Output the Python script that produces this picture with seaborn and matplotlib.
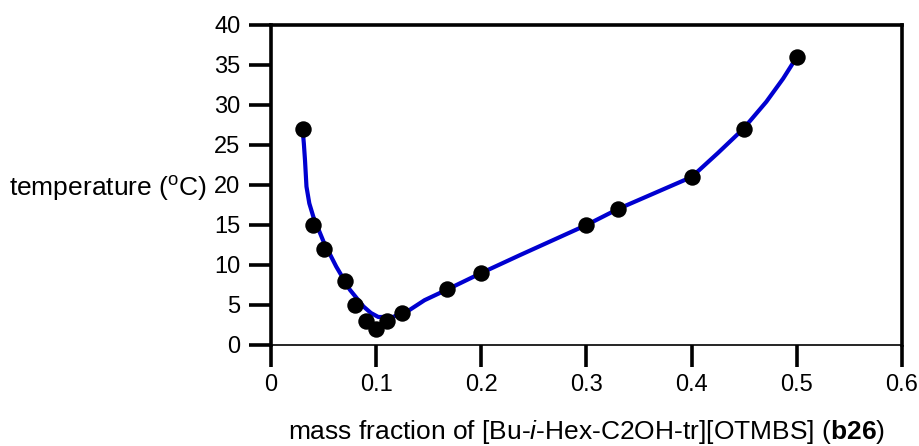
import matplotlib
matplotlib.use("Agg")
import matplotlib.pyplot as plt
import seaborn as sns

# measured points
mass_frac = [0.03, 0.04, 0.05, 0.07, 0.08, 0.09, 0.10, 0.11, 0.125,
             0.167, 0.2, 0.3, 0.33, 0.4, 0.45, 0.5]
temp_c = [27, 15, 12, 8, 5, 3, 2, 3, 4, 7, 9, 15, 17, 21, 27, 36]

# fitted curve
curve_x = [0.03, 0.0312, 0.0323, 0.0337, 0.0364, 0.0403, 0.05, 0.062, 0.075,
           0.088, 0.095, 0.102, 0.116, 0.132, 0.146, 0.167, 0.2, 0.237,
           0.3, 0.33, 0.4, 0.425, 0.449, 0.471, 0.487, 0.5]
curve_y = [27, 25.2, 23.1, 19.8, 17.7, 16, 12.9, 9.8, 6.9,
           4.8, 4.0, 3.5, 3.5, 4.4, 5.6, 6.9, 9, 11.25,
           15, 17, 21, 24.0, 27, 30.4, 33.3, 36]

x_ticks = [0, 0.1, 0.2, 0.3, 0.4, 0.5, 0.6]
x_tick_labels = ["0", "0.1", "0.2", "0.3", "0.4", "0.5", "0.6"]
y_ticks = [0, 5, 10, 15, 20, 25, 30, 35, 40]

sns.set_theme(style="white")
plt.rcParams['font.family'] = ['Liberation Sans', 'DejaVu Sans']
plt.rcParams['text.color'] = 'black'
plt.rcParams['axes.labelcolor'] = 'black'
plt.rcParams['mathtext.fontset'] = 'custom'
plt.rcParams['mathtext.rm'] = 'Liberation Sans'
plt.rcParams['mathtext.it'] = 'Liberation Sans:italic'
plt.rcParams['mathtext.bf'] = 'Liberation Sans:bold'

fig = plt.figure(figsize=(9.2, 4.46), dpi=100)
ax = fig.add_axes([0.2946, 0.2265, 0.6858, 0.7175])

sns.lineplot(x=curve_x, y=curve_y, sort=False, color='#0000D0',
             linewidth=3.0, ax=ax, zorder=2)
sns.scatterplot(x=mass_frac, y=temp_c, color='black', s=140,
                edgecolor='black', linewidth=0, ax=ax, zorder=3)

ax.set_xlim(0, 0.6)
ax.set_ylim(0, 40)
ax.set_xticks(x_ticks)
ax.set_xticklabels(x_tick_labels)
ax.set_yticks(y_ticks)

ax.tick_params(axis='both', direction='out', length=16, width=2.6,
               color='black', labelsize=17, labelcolor='black')
ax.tick_params(axis='y', pad=6)
ax.tick_params(axis='x', pad=5)
ax.xaxis.set_ticks_position('bottom')
ax.yaxis.set_ticks_position('left')

for side in ['left', 'top', 'right']:
    ax.spines[side].set_linewidth(2.6)
    ax.spines[side].set_color('black')
ax.spines['bottom'].set_linewidth(1.2)
ax.spines['bottom'].set_color('black')

ax.set_ylabel(r"temperature ($^{\mathrm{o}}$C)", rotation=0, fontsize=19,
              ha='right', va='center')
ax.yaxis.set_label_coords(-0.101, 0.49)
ax.set_xlabel(r"mass fraction of [Bu-$\mathit{i}$-Hex-C2OH-tr][OTMBS] ($\mathbf{b26}$)",
              fontsize=19, va='center')
ax.xaxis.set_label_coords(0.5, -0.272)

fig.savefig("out.png", dpi=100)
